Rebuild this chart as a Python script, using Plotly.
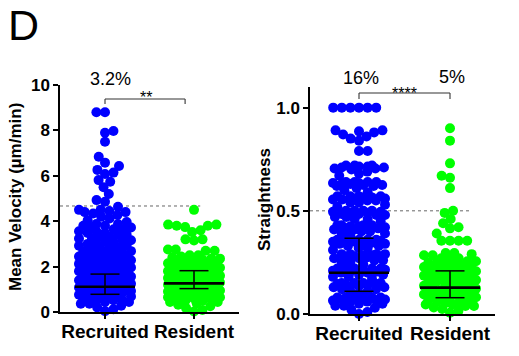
import math
import plotly.graph_objects as go

# ---------------- data ----------------
groups = ["Recruited", "Resident"]
group_colors = ["#0000ff", "#00ff00"]

# each value level with the number of cells observed at that level
recruited_velocity_levels = [
    8.8, 7.97, 7.9, 7.5, 6.84, 6.58, 6.43, 6.26, 6.14, 6.08, 5.81, 5.74, 5.5, 5.2, 4.93, 4.86, 4.64,
    4.5, 4.45, 4.4, 4.34, 4.27, 4.2, 4.12, 4.04, 3.96, 3.88, 3.8,
    3.72, 3.64, 3.56, 3.48, 3.4, 3.32, 3.24, 3.16, 3.08, 3.0,
    2.92, 2.84, 2.76, 2.68, 2.6, 2.52, 2.44, 2.36, 2.28, 2.2,
    2.12, 2.04, 1.96, 1.88, 1.8, 1.72, 1.64, 1.56, 1.48, 1.4,
    1.32, 1.24, 1.16, 1.08, 1.0, 0.92, 0.84, 0.76, 0.68, 0.6,
    0.52, 0.44, 0.36, 0.28, 0.2, 0.12, 0.04,
]
recruited_velocity_counts = [
    2, 1, 1, 1, 1, 1, 1, 1, 1, 1, 1, 1, 1, 1, 1, 1, 1,
    2, 1, 2, 1, 1, 1, 1, 1, 1, 2, 2,
    2, 2, 2, 2, 2, 2, 2, 2, 2, 2,
    2, 2, 2, 2, 2, 3, 3, 3, 3, 3,
    3, 3, 3, 3, 3, 3, 3, 3, 3, 3,
    3, 3, 3, 3, 3, 3, 3, 3, 3, 3,
    3, 2, 2, 1, 1, 1, 1,
]
resident_velocity_levels = [
    4.5, 3.85, 3.8, 3.74, 3.6, 3.52, 3.2, 3.15, 2.75, 2.7,
    2.5, 2.45, 2.4, 2.35, 2.3, 2.25, 2.2, 2.15, 2.1, 2.05,
    2.0, 1.95, 1.9, 1.85, 1.8, 1.75, 1.7, 1.65, 1.6, 1.55,
    1.5, 1.45, 1.4, 1.35, 1.3, 1.25, 1.2, 1.15, 1.1, 1.05,
    1.0, 0.95, 0.9, 0.85, 0.8, 0.75, 0.7, 0.65, 0.6, 0.55,
    0.5, 0.44, 0.38, 0.32, 0.25, 0.17, 0.09, 0.02,
]
resident_velocity_counts = [
    1, 2, 2, 1, 1, 1, 2, 1, 2, 2,
    2, 1, 1, 2, 1, 1, 2, 1, 1, 2,
    2, 2, 2, 2, 2, 2, 2, 2, 2, 2,
    2, 2, 2, 2, 2, 2, 2, 2, 2, 2,
    2, 2, 2, 2, 2, 2, 2, 2, 2, 2,
    2, 2, 1, 1, 1, 1, 1, 1,
]
recruited_straightness_levels = [
    1.0,
    0.89, 0.885, 0.88, 0.87, 0.86, 0.85, 0.84,
    0.79,
    0.72, 0.715, 0.71, 0.705, 0.7, 0.69, 0.68, 0.67,
    0.64, 0.635, 0.63, 0.625, 0.62, 0.61, 0.6, 0.59,
    0.57, 0.565, 0.56, 0.555, 0.55, 0.54, 0.53, 0.52,
    0.5, 0.495, 0.49, 0.485, 0.48, 0.47, 0.46, 0.45,
    0.43, 0.425, 0.42, 0.415, 0.41, 0.4, 0.39, 0.38,
    0.36, 0.355, 0.35, 0.345, 0.34, 0.33, 0.32, 0.31,
    0.29, 0.285, 0.28, 0.275, 0.27, 0.26, 0.25, 0.24,
    0.22, 0.215, 0.21, 0.205, 0.2, 0.19, 0.18, 0.17,
    0.15, 0.145, 0.14, 0.135, 0.13, 0.12, 0.11, 0.1,
    0.08, 0.075, 0.07, 0.065, 0.06, 0.05, 0.04, 0.03,
    0.02, 0.01, 0.0,
]
recruited_straightness_counts = [
    6,
    2, 1, 1, 1, 1, 1, 1,
    2,
    3, 2, 2, 2, 1, 1, 1, 1,
    4, 2, 2, 2, 2, 1, 1, 1,
    4, 2, 2, 2, 2, 2, 1, 1,
    4, 2, 2, 2, 2, 2, 2, 1,
    4, 2, 2, 2, 2, 2, 2, 1,
    4, 2, 2, 2, 2, 2, 2, 1,
    4, 2, 2, 2, 2, 2, 2, 1,
    4, 2, 2, 2, 2, 2, 2, 1,
    4, 2, 2, 2, 2, 2, 2, 1,
    4, 2, 2, 2, 2, 2, 2, 1,
    1, 1, 1,
]
resident_straightness_levels = [
    0.9, 0.84, 0.73, 0.67, 0.66, 0.61, 0.5, 0.49, 0.46, 0.44, 0.42, 0.415, 0.39,
    0.355, 0.296, 0.29, 0.285,
    0.27, 0.263, 0.256, 0.249, 0.242, 0.235, 0.228, 0.221, 0.214, 0.207,
    0.2, 0.193, 0.186, 0.179, 0.172, 0.165, 0.158, 0.151, 0.144, 0.137,
    0.13, 0.123, 0.116, 0.109, 0.102, 0.095, 0.088, 0.081, 0.074, 0.067,
    0.06, 0.053, 0.046, 0.039, 0.032, 0.024, 0.015, 0.006,
]
resident_straightness_counts = [
    1, 1, 1, 1, 1, 1, 1, 1, 1, 1, 1, 1, 1,
    4, 2, 1, 2,
    2, 1, 2, 2, 2, 2, 2, 2, 2, 2,
    2, 2, 2, 2, 2, 2, 2, 2, 2, 2,
    2, 2, 2, 2, 2, 2, 2, 2, 2, 2,
    2, 2, 2, 2, 1, 1, 1, 1,
]

velocity_median = [1.11, 1.26]
velocity_q1 = [0.78, 1.03]
velocity_q3 = [1.67, 1.82]
straightness_median = [0.2, 0.128]
straightness_q1 = [0.11, 0.079]
straightness_q3 = [0.367, 0.209]

velocity_threshold = 4.67
straightness_threshold = 0.5
velocity_pct_labels = ["3.2%", ""]
straightness_pct_labels = ["16%", "5%"]
velocity_sig = "**"
straightness_sig = "****"
velocity_title = "Mean Velocity (µm/min)"
straightness_title = "Straightness"
panel_letter = "D"


def expand(levels, counts):
    assert len(levels) == len(counts)
    out = []
    for v, c in zip(levels, counts):
        out.extend([v] * c)
    return out


recruited_velocity = expand(recruited_velocity_levels, recruited_velocity_counts)
resident_velocity = expand(resident_velocity_levels, resident_velocity_counts)
recruited_straightness = expand(recruited_straightness_levels, recruited_straightness_counts)
resident_straightness = expand(resident_straightness_levels, resident_straightness_counts)

# ---------------- layout geometry (pixels) ----------------
W, H = 519, 356
FONT = "Liberation Sans, Arial, Helvetica, sans-serif"
DOT = 10         # marker diameter px
SPACING = 8.6    # min centre distance px
MAX_HALF = 26.0  # max swarm half width px

geo = {
    "v": dict(xpx=(60, 239), ypx=(312, 85), xr=(-45 / 89, 1 + 45 / 89), yr=(0, 10)),
    "s": dict(xpx=(310, 495), ypx=(314, 87), xr=(-49 / 91, 1 + 45 / 91), yr=(0, 1.1)),
}


def px(x, y):
    return x / W, 1 - y / H


def scales(g):
    xs = (g["xpx"][1] - g["xpx"][0]) / (g["xr"][1] - g["xr"][0])
    ys = (g["ypx"][0] - g["ypx"][1]) / (g["yr"][1] - g["yr"][0])
    return xs, ys


def swarm_offsets(values, y_scale, diam=SPACING, max_half=MAX_HALF):
    order = sorted(range(len(values)), key=lambda i: values[i])
    placed = []
    out = [0.0] * len(values)
    sign = 1
    for i in order:
        y = values[i] * y_scale
        near = [(p, q) for p, q in placed if abs(q - y) < diam]
        cands = [0.0]
        for p, q in near:
            dx = math.sqrt(diam * diam - (q - y) ** 2)
            cands += [p + dx, p - dx]
        cands = [c for c in cands if abs(c) <= max_half + 1e-9]
        cands.sort(key=lambda c: (round(abs(c), 6), -sign * c))
        best = None
        for c in cands:
            if all((c - p) ** 2 + (y - q) ** 2 >= diam * diam - 1e-6 for p, q in near):
                best = c
                break
        if best is None:
            grid = [max_half * k / 6.0 for k in range(-6, 7)]
            best = max(grid, key=lambda c: (min((c - p) ** 2 + (y - q) ** 2 for p, q in near), -abs(c)))
        if best != 0:
            sign = -sign
        placed.append((best, y))
        out[i] = best
    return out


fig = go.Figure()
shapes = []
annotations = []

panels = [
    ("v", "x", "y", [recruited_velocity, resident_velocity],
     velocity_median, velocity_q1, velocity_q3, velocity_threshold),
    ("s", "x2", "y2", [recruited_straightness, resident_straightness],
     straightness_median, straightness_q1, straightness_q3, straightness_threshold),
]

for key, xa, ya, datasets, med, q1, q3, thr in panels:
    g = geo[key]
    x_scale, y_scale = scales(g)
    x_end = 1.07 if key == "v" else 1.22
    shapes.append(dict(type="line", xref=xa, yref=ya, x0=g["xr"][0], x1=x_end, y0=thr, y1=thr,
                       line=dict(color="#666666", width=1, dash="dot"), layer="below"))
    for gi, vals in enumerate(datasets):
        offs = swarm_offsets(vals, y_scale)
        xs = [gi + o / x_scale for o in offs]
        fig.add_trace(go.Scatter(
            x=xs, y=vals, mode="markers", xaxis=xa, yaxis=ya,
            marker=dict(size=DOT, color=group_colors[gi], line=dict(width=0)),
            cliponaxis=False, showlegend=False, hoverinfo="skip"))
        mh = 30 / x_scale
        wh = 14.5 / x_scale
        shapes.append(dict(type="line", xref=xa, yref=ya, x0=gi - mh, x1=gi + mh,
                           y0=med[gi], y1=med[gi], line=dict(color="black", width=2.6)))
        for qv in (q1[gi], q3[gi]):
            shapes.append(dict(type="line", xref=xa, yref=ya, x0=gi - wh, x1=gi + wh,
                               y0=qv, y1=qv, line=dict(color="black", width=1.5)))
        shapes.append(dict(type="line", xref=xa, yref=ya, x0=gi, x1=gi,
                           y0=q1[gi], y1=q3[gi], line=dict(color="black", width=1.5)))


def bracket(xa, x0, x1, ytop, ybot):
    yt = 1 - ytop / H
    yb = 1 - ybot / H
    for a, b, c, d in ((x0, yt, x1, yt), (x0, yt, x0, yb), (x1, yt, x1, yb)):
        shapes.append(dict(type="line", xref=xa, yref="paper", x0=a, y0=b, x1=c, y1=d,
                           line=dict(color="#333333", width=1.1)))


bracket("x", 0, 0.9, 99, 104)
bracket("x2", 0, 1, 93, 99)


def text(t, x, y, size, bold=False, angle=0, xanchor="center", yanchor="middle", pad=1):
    X, Y = px(x, y)
    annotations.append(dict(text=t, x=X, y=Y, xref="paper", yref="paper", showarrow=False,
                            xanchor=xanchor, yanchor=yanchor, textangle=angle, borderpad=pad,
                            font=dict(family=FONT, size=size, color="black",
                                      weight="bold" if bold else "normal")))


text(panel_letter, 7, 0, 43, xanchor="left", yanchor="top", pad=0)
text(velocity_pct_labels[0], 110, 79, 18)
text(straightness_pct_labels[0], 361, 78, 18)
text(straightness_pct_labels[1], 452, 77, 18)
text(velocity_sig, 145.5, 97, 16)
text(straightness_sig, 404.5, 93.5, 16)
text(velocity_title, 15, 197, 17, bold=True, angle=-90)
text(straightness_title, 264, 200, 17, bold=True, angle=-90)

axis_common = dict(showline=True, linecolor="black", linewidth=1.5, ticks="outside",
                   ticklen=5, tickwidth=1.5, tickcolor="black", showgrid=False, zeroline=False,
                   automargin=False,
                   tickfont=dict(family=FONT, size=17, color="black", weight="bold"))


def dom_x(g):
    return [g["xpx"][0] / W, g["xpx"][1] / W]


def dom_y(g):
    return [1 - g["ypx"][0] / H, 1 - g["ypx"][1] / H]


xfont = dict(family=FONT, size=19, color="black", weight="bold")
fig.update_layout(
    width=W, height=H, margin=dict(l=0, r=0, t=0, b=0, autoexpand=False),
    paper_bgcolor="white", plot_bgcolor="white",
    xaxis=dict(axis_common, domain=dom_x(geo["v"]), range=list(geo["v"]["xr"]), anchor="y",
               tickvals=[0, 1], ticktext=groups, tickfont=xfont, ticklabelstandoff=-4),
    yaxis=dict(axis_common, domain=dom_y(geo["v"]), range=list(geo["v"]["yr"]), anchor="x",
               tickvals=[0, 2, 4, 6, 8, 10]),
    xaxis2=dict(axis_common, domain=dom_x(geo["s"]), range=list(geo["s"]["xr"]), anchor="y2",
                tickvals=[0, 1], ticktext=groups, tickfont=xfont, ticklabelstandoff=-4),
    yaxis2=dict(axis_common, domain=dom_y(geo["s"]), range=list(geo["s"]["yr"]), anchor="x2",
                tickvals=[0, 0.5, 1.0], tickformat=".1f"),
    shapes=shapes, annotations=annotations,
)

fig.write_html(
    "out.html",
    config={"displayModeBar": False},
    post_script="document.body.style.margin='0';document.body.style.padding='0';"
                "document.body.style.overflow='hidden';",
)
